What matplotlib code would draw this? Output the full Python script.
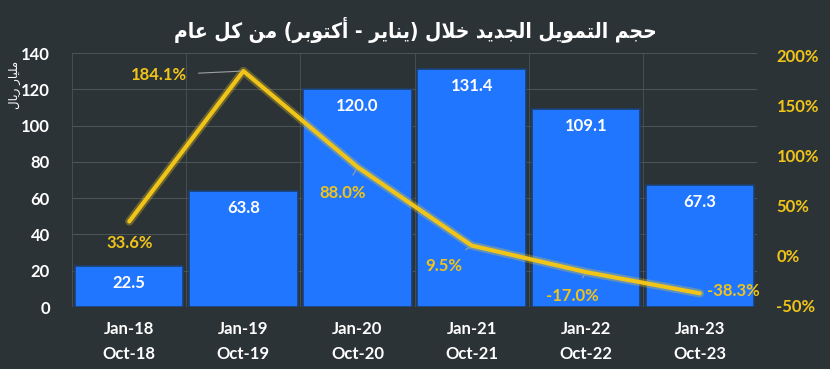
import matplotlib
matplotlib.use("Agg")
import matplotlib.pyplot as plt
import matplotlib.patheffects as pe
import numpy as np

plt.rcParams["font.family"] = ["Lato", "DejaVu Sans"]

# data
periods = ["Jan-18\nOct-18", "Jan-19\nOct-19", "Jan-20\nOct-20",
           "Jan-21\nOct-21", "Jan-22\nOct-22", "Jan-23\nOct-23"]
financing = [22.5, 63.8, 120.0, 131.4, 109.1, 67.3]
growth = [33.6, 184.1, 88.0, 9.5, -17.0, -38.3]

title_ar = "حجم التمويل الجديد خلال (يناير - أكتوبر) من كل عام"
ylabel_ar = "مليار ريال"

# label placement for the % line (pixels from the point)
line_label_off = [(0, -22), (-84, -4), (-15, -26), (-28, -20), (-13, -24), (33, 2)]
leader = [False, True, True, True, True, False]

# --- tiny arabic shaper (matplotlib has no shaping) ---
FORMS = {
    "ا": ("\uFE8D", "\uFE8E", None, None),
    "أ": ("\uFE83", "\uFE84", None, None),
    "ب": ("\uFE8F", "\uFE90", "\uFE91", "\uFE92"),
    "ت": ("\uFE95", "\uFE96", "\uFE97", "\uFE98"),
    "ج": ("\uFE9D", "\uFE9E", "\uFE9F", "\uFEA0"),
    "ح": ("\uFEA1", "\uFEA2", "\uFEA3", "\uFEA4"),
    "خ": ("\uFEA5", "\uFEA6", "\uFEA7", "\uFEA8"),
    "د": ("\uFEA9", "\uFEAA", None, None),
    "ر": ("\uFEAD", "\uFEAE", None, None),
    "ع": ("\uFEC9", "\uFECA", "\uFECB", "\uFECC"),
    "ك": ("\uFED9", "\uFEDA", "\uFEDB", "\uFEDC"),
    "ل": ("\uFEDD", "\uFEDE", "\uFEDF", "\uFEE0"),
    "م": ("\uFEE1", "\uFEE2", "\uFEE3", "\uFEE4"),
    "ن": ("\uFEE5", "\uFEE6", "\uFEE7", "\uFEE8"),
    "و": ("\uFEED", "\uFEEE", None, None),
    "ي": ("\uFEF1", "\uFEF2", "\uFEF3", "\uFEF4"),
}
LAM_ALEF = {"ا": ("\uFEFB", "\uFEFC"), "أ": ("\uFEF7", "\uFEF8")}


def shape(text):
    chars = list(text)
    out = []
    i = 0
    while i < len(chars):
        c = chars[i]
        if c not in FORMS:
            out.append(c)
            i += 1
            continue
        prev = chars[i - 1] if i > 0 else ""
        joins_prev = prev in FORMS and FORMS[prev][2] is not None
        if c == "ل" and i + 1 < len(chars) and chars[i + 1] in LAM_ALEF:
            lig = LAM_ALEF[chars[i + 1]]
            out.append(lig[1] if joins_prev else lig[0])
            i += 2
            continue
        nxt = chars[i + 1] if i + 1 < len(chars) else ""
        iso, fin, ini, med = FORMS[c]
        joins_next = nxt in FORMS and ini is not None
        if joins_prev and joins_next:
            out.append(med)
        elif joins_prev:
            out.append(fin)
        elif joins_next:
            out.append(ini)
        else:
            out.append(iso)
        i += 1
    s = "".join(out)[::-1]
    return s.translate(str.maketrans("()", ")("))


bg = "#2c3336"
blue = "#2176ff"
yellow = "#f0c419"
grid = "#4b5356"

fig = plt.figure(figsize=(8.3, 3.69), dpi=100, facecolor=bg)
ax = fig.add_axes([0.087, 0.168, 0.825, 0.688])
ax.set_facecolor(bg)
x = np.arange(len(periods))

ax.bar(x, financing, width=0.95, color=blue, edgecolor="#1d3f6e", linewidth=1.2, zorder=2)
ax.set_xlim(-0.5, len(periods) - 0.5)
ax.set_ylim(0, 140)
ax.set_yticks(range(0, 141, 20))
ax.set_xticks(x)
ax.set_xticklabels(periods, color="white", fontsize=12, fontweight="bold", linespacing=1.7)
ax.set_xticks(np.arange(-0.5, len(periods), 1), minor=True)
ax.tick_params(axis="x", which="both", length=0, pad=10)
ax.tick_params(axis="y", length=0, colors="white", labelsize=12, pad=16)
for lab in ax.get_yticklabels():
    lab.set_fontweight("bold")
ax.grid(axis="y", color=grid, linewidth=0.8, zorder=0)
ax.grid(axis="x", which="minor", color=grid, linewidth=0.6, zorder=0)
for sp in ax.spines.values():
    sp.set_visible(False)

ax2 = ax.twinx()
ax2.set_ylim(-52, 202)
ax2.set_yticks(range(-50, 201, 50))
ax2.set_yticklabels([f"{t}%" for t in range(-50, 201, 50)])
ax2.tick_params(axis="y", length=0, colors=yellow, labelsize=12, pad=14)
for lab in ax2.get_yticklabels():
    lab.set_fontweight("bold")
for sp in ax2.spines.values():
    sp.set_visible(False)

ax2.plot(x, growth, color=yellow, linewidth=3, solid_capstyle="round", zorder=4,
         path_effects=[pe.Stroke(linewidth=6, foreground="#f5d020", alpha=0.3), pe.Normal()])

for xi, g, off, ld in zip(x, growth, line_label_off, leader):
    ax2.annotate(f"{g:.1f}%", (xi, g), xytext=off, textcoords="offset pixels",
                 ha="center", va="center", color=yellow, fontsize=12, fontweight="bold",
                 zorder=6,
                 arrowprops=dict(arrowstyle="-", color="#9aa0a2", lw=0.8,
                                 shrinkA=6, shrinkB=2) if ld else None)

# bar values inside the top of each bar
for xi, v in zip(x, financing):
    ax.annotate(f"{v:.1f}", (xi, v), xytext=(0, -17), textcoords="offset pixels",
                ha="center", va="center", color="white", fontsize=12,
                fontweight="bold", zorder=5)

fig.text(0.5, 0.92, shape(title_ar), ha="center", va="center", color="white",
         fontsize=15, fontweight="bold", fontstretch="condensed", family="DejaVu Sans")
fig.text(0.017, 0.77, shape(ylabel_ar), ha="center", va="center", color="white",
         fontsize=8.5, rotation=90, family="DejaVu Sans")

fig.savefig("out.png", dpi=100, facecolor=bg)
